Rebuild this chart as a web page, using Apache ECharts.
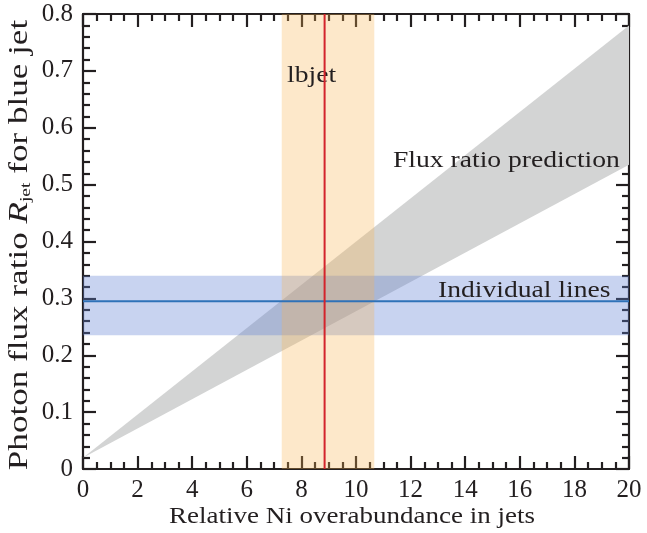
<!DOCTYPE html>
<html>
<head>
<meta charset="utf-8">
<script src="https://cdn.jsdelivr.net/npm/echarts@6/dist/echarts.min.js"></script>
<style>
html,body{margin:0;padding:0;background:#fff;}
#chart{width:647px;height:533px;}
</style>
</head>
<body>
<div id="chart"></div>
<script>
// ---- data ----
const xRange = [0, 20];
const yRange = [0, 0.8];
const xTickInterval = 2;
const yTickInterval = 0.1;
// Flux ratio prediction wedge (vertices: x, y)
const wedgeX = [0, 20, 20];
const wedgeY = [0.02, 0.78, 0.535];
// Individual lines band and value
const linesBand = [0.235, 0.34];
const linesValue = 0.295;
// lbjet band and value
const lbjetBand = [7.28, 10.67];
const lbjetValue = 8.85;
const labels = { lbjet: 'lbjet', pred: 'Flux ratio prediction', lines: 'Individual lines' };
const xTitle = 'Relative Ni overabundance in jets';

const FONT = '"Liberation Serif", "Times New Roman", serif';
const TXT = '#231f20';
const chart = echarts.init(document.getElementById('chart'), null, { renderer: 'canvas' });

const wedgeData = wedgeX.map((x, i) => [x, wedgeY[i]]);

function axisCommon(show) {
  return {
    type: 'value',
    axisLine: { show: true, onZero: false, lineStyle: { color: TXT, width: 2.2 } },
    axisTick: { show: true, inside: true, length: 13, lineStyle: { color: TXT, width: 2.2 } },
    splitLine: { show: false },
    axisLabel: { show: show, fontFamily: FONT, fontSize: 25, color: TXT }
  };
}

const xBase = (pos, show) => Object.assign(axisCommon(show), {
  position: pos, min: xRange[0], max: xRange[1], interval: xTickInterval,
  minorTick: { show: true, splitNumber: 4, length: 7, lineStyle: { color: TXT, width: 2.2 } }
});
const yBase = (pos, show) => Object.assign(axisCommon(show), {
  position: pos, min: yRange[0], max: yRange[1], interval: yTickInterval,
  minorTick: { show: true, splitNumber: 5, length: 7, lineStyle: { color: TXT, width: 2.2 } }
});

const xMain = xBase('bottom', true);
xMain.axisLabel.margin = 9;
xMain.axisLabel.formatter = v => String(v);

const yMain = yBase('left', true);
yMain.axisLabel.margin = 10;
yMain.axisLabel.formatter = v => (v === 0 ? '0' : v.toFixed(1));

const option = {
  backgroundColor: '#fff',
  animation: false,
  grid: { left: 83, right: 18, top: 14, bottom: 64 },
  xAxis: [xMain, xBase('top', false)],
  yAxis: [yMain, yBase('right', false)],
  series: [
    {
      type: 'custom',
      z: 2,
      data: [0],
      renderItem: function (params, api) {
        const pts = wedgeData.map(p => api.coord(p));
        return { type: 'polygon', shape: { points: pts }, style: { fill: '#d3d4d4' } };
      }
    },
    {
      type: 'custom',
      z: 3,
      data: [0],
      renderItem: function (params, api) {
        const a = api.coord([xRange[0], linesBand[1]]);
        const b = api.coord([xRange[1], linesBand[0]]);
        return { type: 'rect', shape: { x: a[0], y: a[1], width: b[0] - a[0], height: b[1] - a[1] },
          style: { fill: 'rgba(97,129,211,0.35)' } };
      }
    },
    {
      type: 'custom',
      z: 4,
      data: [0],
      renderItem: function (params, api) {
        const a = api.coord([lbjetBand[0], yRange[1]]);
        const b = api.coord([lbjetBand[1], yRange[0]]);
        return { type: 'rect', shape: { x: a[0], y: a[1], width: b[0] - a[0], height: b[1] - a[1] },
          style: { fill: 'rgba(250,180,80,0.3)' } };
      }
    },
    {
      type: 'custom',
      z: 6,
      data: [0],
      renderItem: function (params, api) {
        const a = api.coord([xRange[0], linesValue]);
        const b = api.coord([xRange[1], linesValue]);
        const c = api.coord([lbjetValue, yRange[0]]);
        const d = api.coord([lbjetValue, yRange[1]]);
        return { type: 'group', children: [
          { type: 'line', shape: { x1: a[0], y1: a[1], x2: b[0], y2: b[1] }, style: { stroke: '#2f72b8', lineWidth: 2 } },
          { type: 'line', shape: { x1: c[0], y1: c[1], x2: d[0], y2: d[1] }, style: { stroke: '#d3242c', lineWidth: 2 } }
        ] };
      }
    }
  ],
  graphic: [
    { type: 'text', x: 287, y: 76, z: 5, scaleX: 1.15,
      style: { text: labels.lbjet, fontFamily: FONT, fontSize: 24, fill: TXT, verticalAlign: 'middle' } },
    { type: 'text', x: 393, y: 161, z: 10, scaleX: 1.15,
      style: { text: labels.pred, fontFamily: FONT, fontSize: 24, fill: TXT, verticalAlign: 'middle' } },
    { type: 'text', x: 438, y: 291, z: 10, scaleX: 1.15,
      style: { text: labels.lines, fontFamily: FONT, fontSize: 24, fill: TXT, verticalAlign: 'middle' } },
    { type: 'text', x: 352, y: 517, z: 10, scaleX: 1.2,
      style: { text: xTitle, fontFamily: FONT, fontSize: 22.5, fill: TXT, align: 'center', verticalAlign: 'middle' } },
    { type: 'text', x: 20, y: 245, z: 10, rotation: Math.PI / 2, scaleX: 1.3,
      style: {
        text: '{t|Photon flux ratio }{i|R}{s|jet}{t| for blue jet}',
        align: 'center', verticalAlign: 'middle',
        rich: {
          t: { fontFamily: FONT, fontSize: 27, fill: TXT, lineHeight: 27 },
          i: { fontFamily: FONT, fontSize: 27, fontStyle: 'italic', fill: TXT, lineHeight: 27 },
          s: { fontFamily: FONT, fontSize: 15, fill: TXT, lineHeight: 15, verticalAlign: 'bottom' }
        }
      } }
  ]
};
chart.setOption(option);
</script>
</body>
</html>
